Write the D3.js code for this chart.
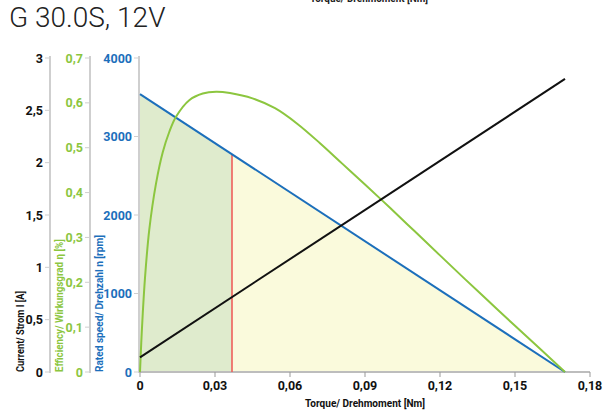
<!DOCTYPE html>
<html>
<head>
<meta charset="utf-8">
<script src="https://cdn.jsdelivr.net/npm/d3@7"></script>
<style>
  body { margin: 0; background: #fff; }
  svg { display: block; }
  .tick-lbl { font-family: Roboto, "Liberation Sans", sans-serif; font-weight: bold; font-size: 12.5px; }
  .ax-title { font-family: Roboto, "Liberation Sans", sans-serif; font-weight: bold; font-size: 11px; }
</style>
</head>
<body>
<script>
// torque axis
const torqueTicks = [0, 0.03, 0.06, 0.09, 0.12, 0.15, 0.18]
// rated speed line n(T)
const speedTorque = [0, 0.17]
const speedRpm = [3540, 0]
// current line I(T)
const currentTorque = [0, 0.17]
const currentAmp = [0.14, 2.8]
// efficiency curve
const effTorque = [0, 0.0005, 0.0011, 0.002, 0.0037, 0.0064, 0.0091, 0.0117, 0.0144, 0.0197, 0.0251, 0.0305, 0.036, 0.045, 0.054, 0.063, 0.072, 0.081, 0.09, 0.1, 0.11, 0.12, 0.13, 0.14, 0.15, 0.16, 0.17]
const effValue = [0, 0.065, 0.13, 0.21, 0.317, 0.42, 0.49, 0.535, 0.569, 0.606, 0.621, 0.625, 0.622, 0.61, 0.588, 0.553, 0.51, 0.464, 0.418, 0.366, 0.313, 0.26, 0.207, 0.155, 0.103, 0.052, 0]
const ratedTorque = 0.0368

const currentTicks = [0, 0.5, 1, 1.5, 2, 2.5, 3]
const effTicks = [0, 0.1, 0.2, 0.3, 0.4, 0.5, 0.6, 0.7]
const speedTicks = [0, 1000, 2000, 3000, 4000]

const fmt = v => String(v).replace(".", ",")

const W = 609, H = 410
const green = "#8cc63f", blue = "#1c6fbb", red = "#ef5f5a"

const svg = d3.select("body").append("svg")
    .attr("width", W)
    .attr("height", H)

const x = d3.scaleLinear().domain([0, 0.18]).range([140, 590])
const yTop = 58, yBot = 372
const yCur = d3.scaleLinear().domain([0, 3]).range([yBot, yTop])
const yEff = d3.scaleLinear().domain([0, 0.7]).range([yBot, yTop])
const ySpd = d3.scaleLinear().domain([0, 4000]).range([yBot, yTop])

// title
svg.append("text")
    .attr("x", 9).attr("y", 27)
    .attr("font-family", "Roboto, 'Liberation Sans', sans-serif")
    .attr("font-weight", 300)
    .attr("font-size", 28)
    .attr("fill", "#222")
    .text("G 30.0S, 12V")

// clipped top label (cut at the upper edge in the source too)
svg.append("text")
    .attr("class", "ax-title")
    .attr("x", 310).attr("y", 2)
    .attr("textLength", 118)
    .attr("lengthAdjust", "spacingAndGlyphs")
    .attr("fill", "#222")
    .text("Torque/ Drehmoment [Nm]")

const speedAt = t => d3.scaleLinear().domain(speedTorque).range(speedRpm)(t)

// filled areas under speed line
const area = d3.area()
    .x(d => x(d))
    .y0(yBot)
    .y1(d => ySpd(speedAt(d)))

svg.append("path")
    .datum([0, ratedTorque])
    .attr("d", area)
    .attr("fill", "#dfebcd")

svg.append("path")
    .datum([ratedTorque, speedTorque[1]])
    .attr("d", area)
    .attr("fill", "#fafadc")

// y axes
function yAxis(scale, ticks, xPos, color, labelX) {
    const g = svg.append("g")
    g.append("line")
        .attr("x1", xPos).attr("x2", xPos)
        .attr("y1", yTop - 2).attr("y2", yBot + 1)
        .attr("stroke", "#cfcfcf")
        .attr("stroke-width", 2)
    g.selectAll(".tk")
        .data(ticks)
        .enter()
        .append("line")
        .attr("x1", xPos - 5).attr("x2", xPos)
        .attr("y1", d => scale(d)).attr("y2", d => scale(d))
        .attr("stroke", "#cfcfcf")
        .attr("stroke-width", 1)
    g.selectAll("text")
        .data(ticks)
        .enter()
        .append("text")
        .attr("class", "tick-lbl")
        .attr("x", labelX)
        .attr("y", d => scale(d) + 4.5)
        .attr("text-anchor", "end")
        .attr("fill", color)
        .text(d => fmt(d))
}
yAxis(yCur, currentTicks, 50, "#111", 43)
yAxis(yEff, effTicks, 90, green, 83)
yAxis(ySpd, speedTicks, 139, blue, 132)

// rotated axis titles
const titles = [
    { x: 24, len: 81, text: "Current/ Strom I [A]", color: "#111" },
    { x: 63, len: 133, text: "Efficiency/ Wirkungsgrad η [%]", color: green },
    { x: 103, len: 137, text: "Rated speed/ Drehzahl n [rpm]", color: blue }
]
svg.selectAll(".ytitle")
    .data(titles)
    .enter()
    .append("text")
    .attr("class", "ax-title")
    .attr("transform", d => `translate(${d.x},${yBot}) rotate(-90)`)
    .attr("textLength", d => d.len)
    .attr("lengthAdjust", "spacingAndGlyphs")
    .attr("fill", d => d.color)
    .text(d => d.text)

// x axis
svg.append("line")
    .attr("x1", x(0)).attr("x2", x(0.18))
    .attr("y1", yBot).attr("y2", yBot)
    .attr("stroke", "#bdbdbd")
    .attr("stroke-width", 2)
svg.selectAll(".xtk")
    .data(torqueTicks)
    .enter()
    .append("line")
    .attr("x1", d => x(d)).attr("x2", d => x(d))
    .attr("y1", yBot).attr("y2", yBot + 5)
    .attr("stroke", "#999")
svg.selectAll(".xlbl")
    .data(torqueTicks)
    .enter()
    .append("text")
    .attr("class", "tick-lbl")
    .attr("x", d => x(d))
    .attr("y", yBot + 18)
    .attr("text-anchor", "middle")
    .attr("fill", "#111")
    .text(d => fmt(d))
svg.append("text")
    .attr("class", "ax-title")
    .attr("x", 305)
    .attr("y", 407)
    .attr("textLength", 120)
    .attr("lengthAdjust", "spacingAndGlyphs")
    .attr("fill", "#111")
    .text("Torque/ Drehmoment [Nm]")

// rated torque marker
svg.append("line")
    .attr("x1", x(ratedTorque)).attr("x2", x(ratedTorque))
    .attr("y1", yBot).attr("y2", ySpd(speedAt(ratedTorque)))
    .attr("stroke", red)
    .attr("stroke-width", 1.6)

// speed line
svg.append("path")
    .datum(speedTorque.map((t, i) => [t, speedRpm[i]]))
    .attr("d", d3.line().x(d => x(d[0])).y(d => ySpd(d[1])))
    .attr("fill", "none")
    .attr("stroke", blue)
    .attr("stroke-width", 2)

// efficiency curve
svg.append("path")
    .datum(effTorque.map((t, i) => [t, effValue[i]]))
    .attr("d", d3.line().curve(d3.curveCatmullRom.alpha(0.5)).x(d => x(d[0])).y(d => yEff(d[1])))
    .attr("fill", "none")
    .attr("stroke", green)
    .attr("stroke-width", 2)

// current line
svg.append("path")
    .datum(currentTorque.map((t, i) => [t, currentAmp[i]]))
    .attr("d", d3.line().x(d => x(d[0])).y(d => yCur(d[1])))
    .attr("fill", "none")
    .attr("stroke", "#111")
    .attr("stroke-width", 2)
</script>
</body>
</html>
